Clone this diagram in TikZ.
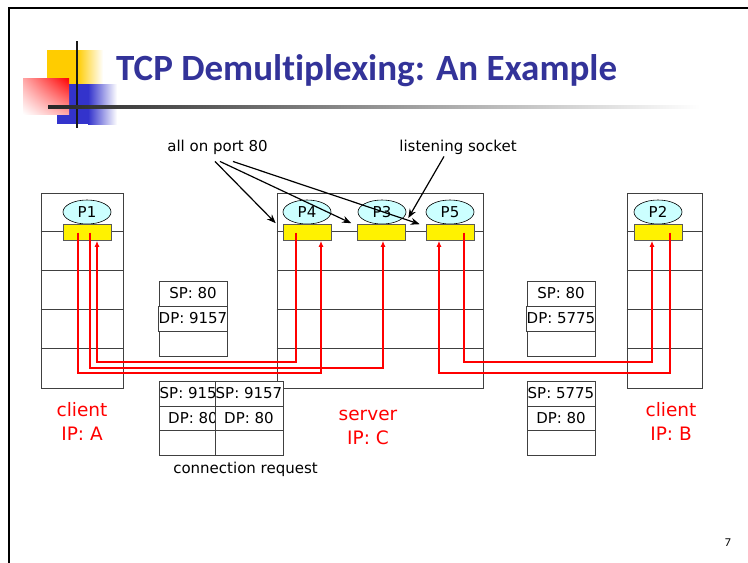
\documentclass[tikz,border=0pt]{standalone}
\usepackage{fontspec}
\setmainfont{DejaVu Sans}
\newfontfamily\titlefont[Ligatures=NoCommon]{Carlito}
\usetikzlibrary{arrows.meta,shapes.geometric,calc,shadings}
\definecolor{titleblue}{RGB}{51,51,153}
\definecolor{proccol}{RGB}{204,255,255}
\definecolor{decoyellow}{RGB}{255,204,0}
\definecolor{decoblue}{RGB}{51,51,204}
\definecolor{boxgray}{RGB}{64,64,64}
\begin{document}
\begin{tikzpicture}[x=1pt,y=-1pt,
  hostbox/.style={draw=boxgray, line width=0.8pt, inner sep=0pt},
  hostline/.style={draw=boxgray, line width=0.8pt},
  proc/.style={ellipse, draw=black, line width=0.6pt, fill=proccol, minimum width=48pt, minimum height=24pt, inner sep=0pt, font=\fontsize{15}{18}\selectfont},
  sock/.style={rectangle, draw=gray!70!black, line width=0.6pt, fill=yellow, minimum width=48pt, minimum height=16pt, inner sep=0pt},
  cell/.style={rectangle, draw=boxgray, line width=0.8pt, fill=white, minimum width=68pt, minimum height=25pt, inner sep=0pt, font=\fontsize{15}{18}\selectfont},
  lbl/.style={inner sep=0pt, font=\fontsize{15}{18}\selectfont},
  redlbl/.style={inner sep=0pt, text=red, align=center, font=\fontsize{18.5}{24}\selectfont},
  rl/.style={draw=red, line width=2pt, line join=miter, -{Latex[length=6pt,width=5pt]}},
  blk/.style={draw=black, line width=1.2pt, -{Stealth[length=9pt,width=7pt]}}
]
\useasboundingbox (0,0) rectangle (748,563);
% slide frame
\draw[line width=2.2pt, black] (9,570) -- (9,8) -- (760,8);
% title decoration
\fill[decoyellow] (47,50) rectangle (77,85);
\shade[left color=decoyellow, right color=white] (77,50) rectangle (103,85);
\fill[decoblue] (57,84) rectangle (88,124);
\shade[left color=decoblue, right color=white] (88,84) rectangle (117,124);
\shade[upper right=red, upper left=red!35, lower right=red!35, lower left=white] (23,78) rectangle (69,114);
\draw[line width=2.6pt, black!90] (77,41) -- (77,128);
\shade[left color=black!85, right color=white] (48,105.7) rectangle (700,108.3);
\node[anchor=base west, inner sep=0pt, text=titleblue, font=\titlefont\bfseries\fontsize{37}{44}\selectfont] (title) at (116,80) {TCP Demultiplexing: An Example};
% hosts
\node[hostbox, minimum width=82pt, minimum height=195pt] (hA) at (82,290.5) {};
\node[hostbox, minimum width=206pt, minimum height=195pt] (hC) at (380,290.5) {};
\node[hostbox, minimum width=75pt, minimum height=195pt] (hB) at (664.5,290.5) {};
\foreach \h in {hA,hC,hB}{
  \foreach \d in {39,78,117,156}{
    \draw[hostline] ([yshift=-\d pt]\h.north west) -- ([yshift=-\d pt]\h.north east);
  }
}
% processes
\node[proc] (p1) at (87,212) {P1};
\node[proc] (p4) at (307,212) {P4};
\node[proc] (p3) at (382,212) {P3};
\node[proc] (p5) at (450,212) {P5};
\node[proc] (p2) at (658,212) {P2};
% sockets
\node[sock] (sA) at (87,232.5) {};
\node[sock] (s4) at (307,232.5) {};
\node[sock] (s3) at (381.5,232.5) {};
\node[sock] (s5) at (450,232.5) {};
\node[sock] (sB) at (658.5,232.5) {};
% header boxes
\node[cell] (h1a) at (193,293.5) {SP: 80};
\node[cell] (h1b) at (193,318.5) {DP: 9157};
\node[cell] (h1c) at (193,343.5) {};
\node[cell] (h2a) at (561,293.5) {SP: 80};
\node[cell] (h2b) at (561,318.5) {DP: 5775};
\node[cell] (h2c) at (561,343.5) {};
\node[cell] (b1a) at (193,393.5) {SP: 9157};
\node[cell] (b1b) at (193,418.5) {DP: 80};
\node[cell] (b1c) at (193,443) {};
\node[cell] (b2a) at (249,393.5) {SP: 9157};
\node[cell] (b2b) at (249,418.5) {DP: 80};
\node[cell] (b2c) at (249,443) {};
\node[cell] (b3a) at (561,393.5) {SP: 5775};
\node[cell] (b3b) at (561,418.5) {DP: 80};
\node[cell] (b3c) at (561,443) {};
% red connections
\coordinate (rA) at (0,362);
\coordinate (rB) at (0,368);
\coordinate (rC) at (0,373);
\coordinate (a78) at ([xshift=-9pt]sA.center);
\coordinate (a90) at ([xshift=3pt]sA.center);
\coordinate (a97) at ([xshift=10pt]sA.south);
\coordinate (e296) at ([xshift=-11pt]s4.center);
\coordinate (e321) at ([xshift=14pt]s4.south);
\coordinate (e383) at ([xshift=1.5pt]s3.south);
\coordinate (e439) at ([xshift=-11pt]s5.south);
\coordinate (e464) at ([xshift=14pt]s5.center);
\coordinate (e652) at ([xshift=-6.5pt]sB.south);
\coordinate (e670) at ([xshift=11.5pt]sB.center);
\draw[rl] (a78) |- (e321 |- rC) -- (e321);
\draw[rl] (a90) |- (e383 |- rB) -- (e383);
\draw[rl] (e296) |- (a97 |- rA) -- (a97);
\draw[rl] (e464) |- (e652 |- rA) -- (e652);
\draw[rl] (e670) |- (e439 |- rC) -- (e439);
% labels
\node[lbl] (allport) at (217.5,147) {all on port 80};
\node[lbl] (listen) at (458,147) {listening socket};
\node[lbl] (connreq) at (245.5,469) {connection request};
\node[redlbl] (labA) at (82,421) {client\\IP: A};
\node[redlbl] (labC) at (368,427) {server\\IP: C};
\node[redlbl] (labB) at (671,421) {client\\IP: B};
\node[inner sep=0pt, font=\titlefont\fontsize{12}{14}\selectfont] (pnum) at (728,543) {7};
% black arrows
\draw[blk] ([shift={(-2.5pt,-7pt)}]allport.south) -- ([xshift=-7pt,yshift=1pt]s4.north west);
\draw[blk] ([shift={(2.5pt,-7pt)}]allport.south) -- ([xshift=-6pt,yshift=1pt]s3.north west);
\draw[blk] ([shift={(15.5pt,-7pt)}]allport.south) -- ([xshift=-6pt,yshift=0pt]s5.north west);
\draw[blk] ([shift={(-14pt,-2pt)}]listen.south) -- ([shift={(2pt,-6pt)}]p3.east);
\end{tikzpicture}
\end{document}
